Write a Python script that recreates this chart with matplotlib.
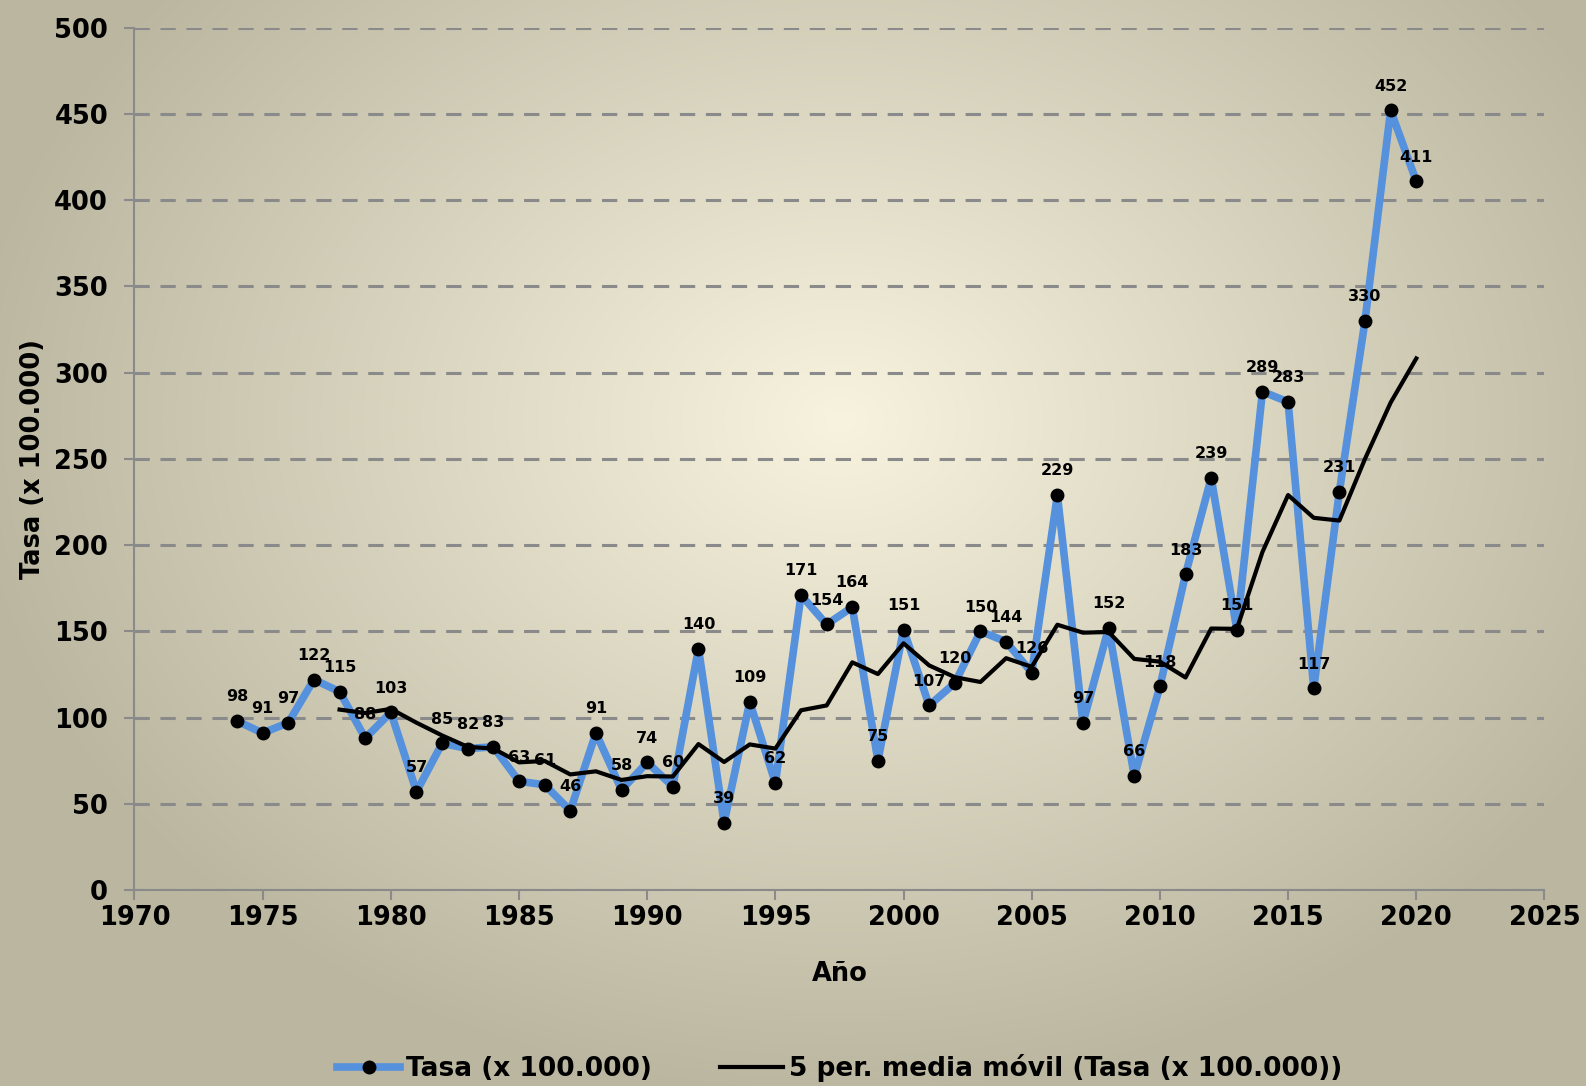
import numpy as np
import pandas as pd
import matplotlib
matplotlib.use("Agg")
import matplotlib.pyplot as plt

years = list(range(1974, 2021))
tasa = [98, 91, 97, 122, 115, 88, 103, 57, 85, 82, 83, 63, 61, 46, 91, 58,
        74, 60, 140, 39, 109, 62, 171, 154, 164, 75, 151, 107, 120, 150, 144,
        126, 229, 97, 152, 66, 118, 183, 239, 151, 289, 283, 117, 231, 330,
        452, 411]

# media movil de 5 periodos, como la linea de tendencia de Excel
media = pd.Series(tasa).rolling(5).mean()

plt.rcParams['font.family'] = ['DejaVu Sans']
plt.rcParams['font.weight'] = 'bold'

W, H = 1586, 1086
fig = plt.figure(figsize=(W / 100, H / 100), dpi=100)

# fondo con degradado radial
bg = fig.add_axes([0, 0, 1, 1])
yy, xx = np.mgrid[0:H, 0:W]
d = np.sqrt(((xx - 840) / 880.0) ** 2 + ((yy - 420) / 680.0) ** 2)
d = np.clip(d, 0, 1)
c_in = np.array([248, 243, 222]) / 255
c_out = np.array([186, 182, 160]) / 255
img = c_in[None, None, :] * (1 - d[..., None]) + c_out[None, None, :] * d[..., None]
bg.imshow(img, aspect='auto')
bg.axis('off')

ax = fig.add_axes([0.0848, 0.1805, 0.889, 0.794])
ax.patch.set_alpha(0)

ax.plot(years, tasa, color='#5591dc', lw=5.5, marker='o', ms=9,
        mfc='black', mec='black', label='Tasa (x 100.000)', zorder=3)
ax.plot(years, media, color='black', lw=3,
        label='5 per. media móvil (Tasa (x 100.000))', zorder=4)

for x, v in zip(years, tasa):
    ax.annotate(str(v), (x, v), xytext=(0, 12), textcoords='offset points',
                ha='center', va='bottom', fontsize=11.5, fontweight='bold', zorder=5)

ax.set_xlim(1970, 2025)
ax.set_ylim(0, 500)
ax.set_xticks(range(1970, 2026, 5))
ax.set_yticks(range(0, 501, 50))
ax.grid(axis='y', color='#8a8a8a', ls=(0, (5, 3.5)), lw=2.2)
ax.set_axisbelow(True)
for s in ['top', 'right']:
    ax.spines[s].set_visible(False)
for s in ['left', 'bottom']:
    ax.spines[s].set_color('#8a8a8a')
    ax.spines[s].set_linewidth(1.5)
ax.tick_params(axis='both', colors='#8a8a8a', width=1.5, length=7,
               labelcolor='black', labelsize=18.5)
ax.tick_params(axis='y', pad=12)
ax.set_xlabel('Año', fontsize=18.5, fontweight='bold', labelpad=22)
ax.set_ylabel('Tasa (x 100.000)', fontsize=18.5, fontweight='bold', labelpad=6)

ax.legend(loc='upper center', bbox_to_anchor=(0.5, -0.163), ncol=2,
          frameon=False, fontsize=19, handlelength=2.4, columnspacing=2.6,
          handletextpad=0.2)

plt.savefig('out.png', dpi=100)
